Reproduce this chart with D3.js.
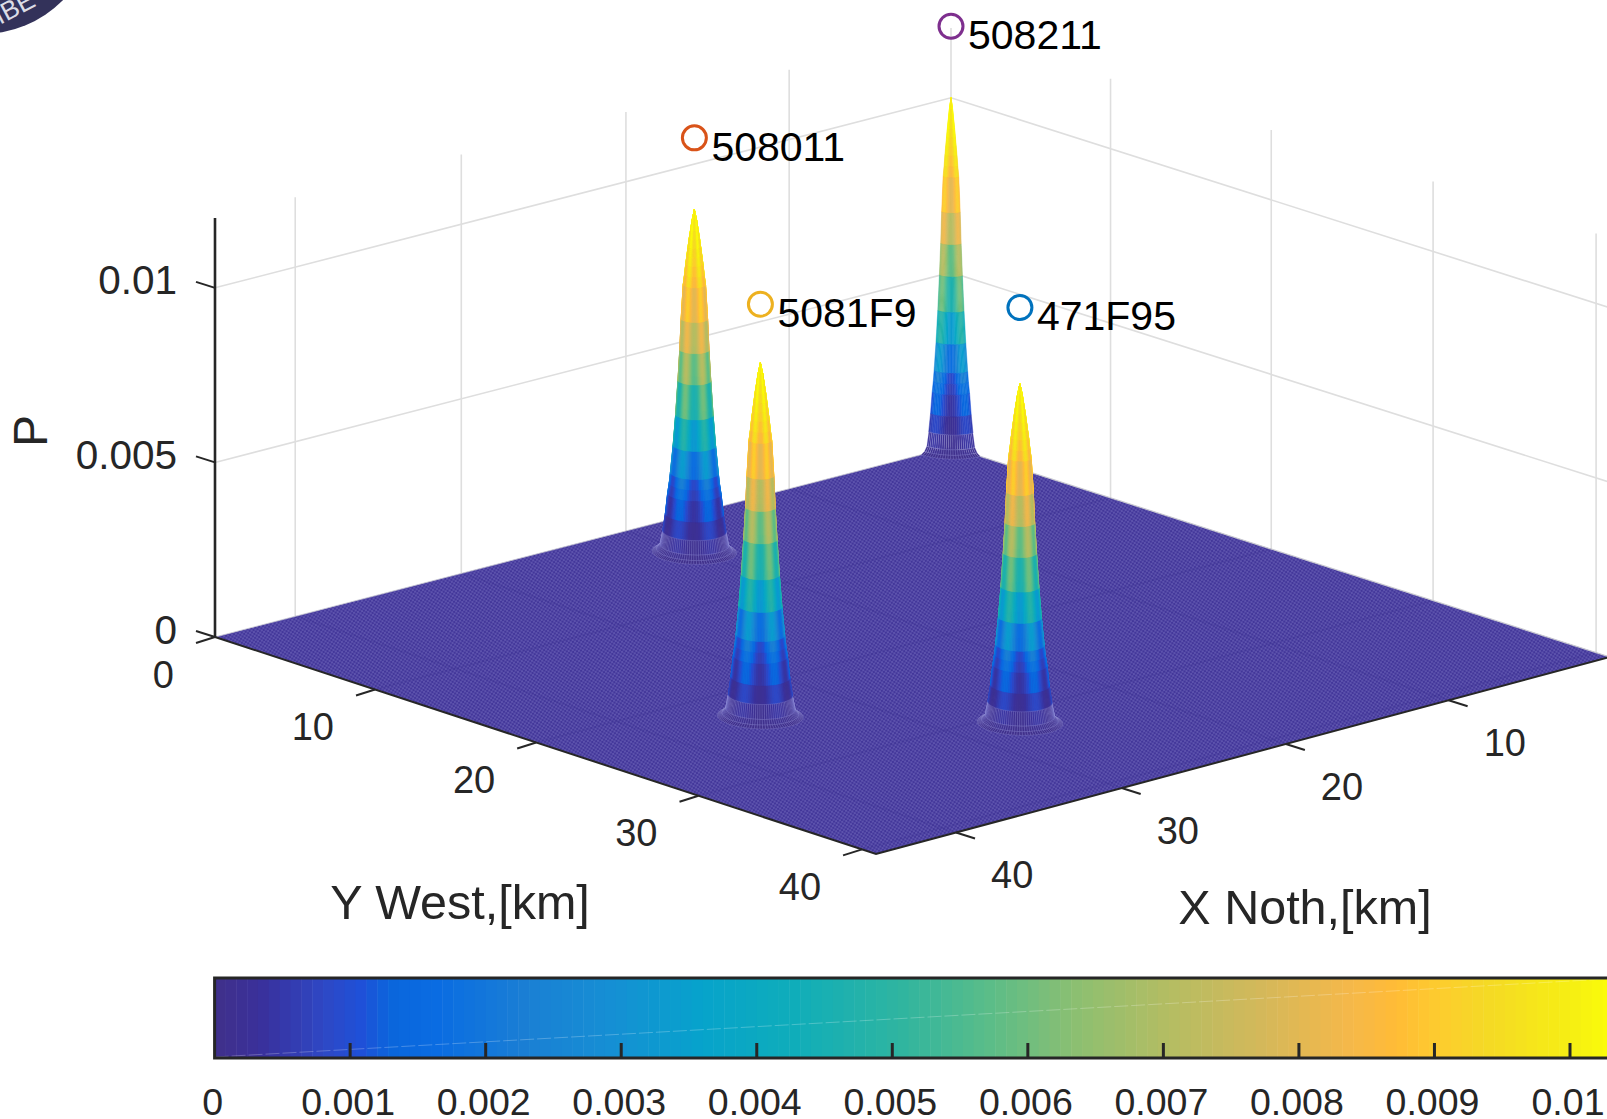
<!DOCTYPE html>
<html>
<head>
<meta charset="utf-8">
<script src="https://cdn.jsdelivr.net/npm/d3@7"></script>
<style>
  html, body { margin: 0; padding: 0; background: #fff; overflow: hidden; }
  text { font-family: "Liberation Sans", Arial, sans-serif; fill: #262626; }
</style>
</head>
<body>
<svg id="chart" width="1607" height="1119"></svg>
<script>
// axis ticks
const xTicks = [10, 20, 30, 40];
const yTicks = [0, 10, 20, 30, 40];
const zTicks = [0, 0.005, 0.01];
const zTickLabels = ["0", "0.005", "0.01"];
const barTicks = [0, 0.001, 0.002, 0.003, 0.004, 0.005, 0.006, 0.007, 0.008, 0.009, 0.01];
const barTickLabels = ["0", "0.001", "0.002", "0.003", "0.004", "0.005", "0.006", "0.007", "0.008", "0.009", "0.01"];

// the four targets, km on the floor, peak P and the height of the circle marker
const targetNames = ["508211", "508011", "5081F9", "471F95"];
const targetX = [0, 19.89, 34.68, 26.68];
const targetY = [0, 4.18, 23.44, 31.28];
const targetP = [0.0100, 0.0098, 0.01012, 0.0097];
const markerP = [0.01205, 0.01186, 0.0118, 0.01189];
const targetColors = ["#7E2F8E", "#D95319", "#EDB120", "#0072BD"];

// radial shape of a peak: radius in km, share of peak height
const ringRadius = [0, 0.1, 0.17, 0.23, 0.28, 0.33, 0.38, 0.43, 0.49, 0.58, 0.64, 0.72, 0.82, 0.93, 1.05, 1.1, 1.17, 1.27, 1.38, 1.5, 1.65, 1.85];
const ringShare = [1, 0.97, 0.94, 0.915, 0.89, 0.865, 0.84, 0.81, 0.78, 0.68, 0.59, 0.5, 0.4, 0.31, 0.23, 0.2, 0.17, 0.11, 0.06, 0.02, 0.007, 0];

// colour seen on the peaks against their share of height
const shadeShare = [0, 0.1, 0.21, 0.38, 0.57, 0.66, 0.85, 1];
const shadeP = [0, 0.0006, 0.0015, 0.0045, 0.0067, 0.008, 0.0095, 0.0103];

// colormap
const cmapValues = [0, 0.00033, 0.00082, 0.00108, 0.0013, 0.00164, 0.0023, 0.00296, 0.0036, 0.00427, 0.00506, 0.00572, 0.0064, 0.00705, 0.00772, 0.00838, 0.00871, 0.00904, 0.00938, 0.01004, 0.01027];
const cmapColors = ["#40308a", "#3a309a", "#2d48c6", "#1f50d8", "#0a66dc", "#0a6ce2", "#1a7fd4", "#1590d4", "#06a3cb", "#0fadba", "#2fb5a0", "#5bbd88", "#8fbf70", "#b5bd62", "#d4b85a", "#f5b84a", "#ffbb36", "#fdcc2e", "#f5d925", "#f6f012", "#fbfb0a"];

const width = 1607, height = 1119;
const svg = d3.select("#chart");
const color = d3.scaleLinear().domain(cmapValues).range(cmapColors).clamp(true);
const shade = d3.scaleLinear().domain(shadeShare).range(shadeP).clamp(true);

// floor corners on the page: back, left, front, right
const corners = [[951, 447], [215, 637], [876, 854], [1610, 657]];
const xScale = d3.scaleLinear().domain([0, 44.8]).range([0, 1]);
const yScale = d3.scaleLinear().domain([0, 40.85]).range([0, 1]);
const zScale = d3.scaleLinear().domain([0, 0.012]).range([0, -419]);

function squareToQuad(q) {
    const [[x0, y0], [x1, y1], [x2, y2], [x3, y3]] = q;
    const dx1 = x1 - x2, dx2 = x3 - x2, sx = x0 - x1 + x2 - x3;
    const dy1 = y1 - y2, dy2 = y3 - y2, sy = y0 - y1 + y2 - y3;
    const den = dx1 * dy2 - dx2 * dy1;
    const g = (sx * dy2 - dx2 * sy) / den;
    const h = (dx1 * sy - sx * dy1) / den;
    return { a: x1 - x0 + g * x1, b: x3 - x0 + h * x3, c: x0,
             d: y1 - y0 + g * y1, e: y3 - y0 + h * y3, f: y0, g, h };
}
const H = squareToQuad(corners);

function project(x, y, z = 0) {
    const u = xScale(x), v = yScale(y);
    const w = H.g * u + H.h * v + 1;
    return [(H.a * u + H.b * v + H.c) / w, (H.d * u + H.e * v + H.f) / w + zScale(z)];
}

const line = d3.line();
const xMax = xScale.domain()[1], yMax = yScale.domain()[1], zMax = zScale.domain()[1];

const defs = svg.append("defs");
const mesh = defs.append("pattern").attr("id", "floorMesh")
    .attr("patternUnits", "userSpaceOnUse").attr("width", 4).attr("height", 4)
    .attr("patternTransform", "rotate(-12)");
mesh.append("rect").attr("width", 4).attr("height", 4).attr("fill", "#5d53ad");
mesh.append("rect").attr("width", 2).attr("height", 2).attr("fill", "#43379a");
mesh.append("rect").attr("x", 2).attr("y", 2).attr("width", 2).attr("height", 2).attr("fill", "#43379a");

// logo clipped by the top left corner
const logo = svg.append("g");
logo.append("circle").attr("cx", -18).attr("cy", -80).attr("r", 114).attr("fill", "#33325a");
logo.append("text").attr("transform", "translate(0,25) rotate(-28)")
    .style("fill", "#dcdce6").attr("font-size", 26).text("IBE");

// back walls
const grid = svg.append("g").attr("fill", "none").attr("stroke", "#dedede").attr("stroke-width", 1.6);
[0].concat(xTicks).forEach(x => grid.append("path").attr("d", line([project(x, 0, 0), project(x, 0, zMax)])));
yTicks.slice(1).forEach(y => grid.append("path").attr("d", line([project(0, y, 0), project(0, y, zMax)])));
zTicks.slice(1).forEach(z => grid.append("path")
    .attr("d", line([project(xMax, 0, z), project(0, 0, z), project(0, yMax, z)])));

// floor
svg.append("path")
    .attr("d", line([project(0, 0), project(xMax, 0), project(xMax, yMax), project(0, yMax)]) + "Z")
    .attr("fill", "url(#floorMesh)");
const floorGrid = svg.append("g").attr("fill", "none").attr("stroke", "#3c3090").attr("stroke-opacity", 0.2).attr("stroke-width", 1.5);
xTicks.forEach(x => floorGrid.append("path").attr("d", line([project(x, 0), project(x, yMax)])));
yTicks.slice(1).forEach(y => floorGrid.append("path").attr("d", line([project(0, y), project(xMax, y)])));
svg.append("path").attr("d", line([project(0, 0), project(0, yMax)]))
    .attr("fill", "none").attr("stroke", "#c8c8d0").attr("stroke-width", 1.2);
svg.append("path").attr("d", line([project(xMax, 0), project(0, 0)]))
    .attr("fill", "none").attr("stroke", "#c8c8d0").attr("stroke-width", 0.8);

// axes lines and ticks
const axes = svg.append("g").attr("fill", "none").attr("stroke", "#262626");
axes.append("path").attr("stroke-width", 2.6)
    .attr("d", line([project(xMax, 0, 0), project(xMax, 0, zMax)]));
axes.append("path").attr("stroke-width", 2)
    .attr("d", line([project(xMax, 0), project(xMax, yMax), project(0, yMax)]));
zTicks.forEach(z => {
    const p = project(xMax, 0, z);
    axes.append("path").attr("stroke-width", 2).attr("d", line([p, [p[0] - 19, p[1] - 6]]));
});
yTicks.forEach(y => {
    const p = project(xMax, y);
    axes.append("path").attr("stroke-width", 2).attr("d", line([p, [p[0] - 19, p[1] + 6]]));
});
xTicks.forEach(x => {
    const p = project(x, yMax);
    axes.append("path").attr("stroke-width", 2).attr("d", line([p, [p[0] + 19, p[1] + 6]]));
});

// peaks, flat shaded quads painted back to front
const quads = [];
targetNames.forEach((name, t) => {
    const dTheta = Math.PI / 48;
    d3.range(96).forEach(j => {
        const t0 = j * dTheta, t1 = (j + 1) * dTheta;
        ringRadius.slice(0, -1).forEach((r0, i) => {
            const r1 = ringRadius[i + 1];
            const pt = (r, th, share) => {
                const x = targetX[t] + r * Math.cos(th), y = targetY[t] + r * Math.sin(th);
                return { x, y, p: project(x, y, share * targetP[t]) };
            };
            const c = [pt(r0, t0, ringShare[i]), pt(r1, t0, ringShare[i + 1]), pt(r1, t1, ringShare[i + 1]), pt(r0, t1, ringShare[i])];
            if (c.some(d => d.x < -1e-6 || d.y < -1e-6)) return;
            const share = (ringShare[i] + ringShare[i + 1]) / 2;
            const mid = (t0 + t1) / 2;
            // the arched colour bands of the original mesh
            const scallop = 0.001 * Math.cos(6 * (mid - Math.PI / 4));
            quads.push({
                d: line(c.map(d => d.p)) + "Z",
                depth: project(targetX[t] + (r0 + r1) / 2 * Math.cos(mid), targetY[t] + (r0 + r1) / 2 * Math.sin(mid))[1],
                value: shade(share) - scallop * Math.min(1, share * 4) * (1 - share * 0.6),
                foot: share < 0.05
            });
        });
    });
});
quads.sort((a, b) => a.depth - b.depth);
svg.append("g").selectAll("path").data(quads).join("path")
    .attr("d", d => d.d)
    .attr("fill", d => color(d.value))
    .attr("stroke", d => d.foot ? "#a9a8e6" : color(d.value))
    .attr("stroke-opacity", d => d.foot ? 0.3 : 1)
    .attr("stroke-width", d => d.foot ? 0.7 : 0.5);

// markers and their labels
const markers = svg.append("g");
targetNames.forEach((name, t) => {
    const p = project(targetX[t], targetY[t], markerP[t]);
    markers.append("circle").attr("cx", p[0]).attr("cy", p[1]).attr("r", 12)
        .attr("fill", "none").attr("stroke", targetColors[t]).attr("stroke-width", 3);
    markers.append("text").attr("x", p[0] + 17).attr("y", p[1] + 8).attr("dy", "0.36em")
        .attr("font-size", 41).style("fill", "#000").text(name);
});

// tick labels
const labels = svg.append("g").attr("text-anchor", "middle");
zTicks.forEach((z, i) => {
    const p = project(xMax, 0, z);
    labels.append("text").attr("x", p[0] - 38).attr("y", p[1] - 8).attr("dy", "0.36em")
        .attr("text-anchor", "end").attr("font-size", 40.5).text(zTickLabels[i]);
});
yTicks.forEach(y => {
    const p = project(xMax, y);
    labels.append("text").attr("x", p[0] - 41).attr("y", p[1] + 37).attr("dy", "0.36em")
        .attr("text-anchor", "end").attr("font-size", 38).text(y);
});
xTicks.forEach(x => {
    const p = project(x, yMax);
    labels.append("text").attr("x", p[0] + 35).attr("y", p[1] + 42).attr("dy", "0.36em")
        .attr("text-anchor", "start").attr("font-size", 38).text(x);
});
labels.append("text").attr("x", 460).attr("y", 902).attr("dy", "0.36em").attr("font-size", 48.5).text("Y West,[km]");
labels.append("text").attr("x", 1305).attr("y", 907).attr("dy", "0.36em").attr("font-size", 48.5).text("X Noth,[km]");
labels.append("text").attr("transform", "translate(30,431) rotate(-90)").attr("dy", "0.36em").attr("font-size", 48).text("P");

// colour bar
const barScale = d3.scaleLinear().domain([0, 0.01]).range([214.6, 1570]);
const barTop = 978, barBottom = 1058;
const barStep = 0.00008;
const barBands = d3.range(0, 0.0105, barStep);
const bar = svg.append("g");
bar.selectAll("rect").data(barBands).join("rect")
    .attr("x", d => barScale(d)).attr("y", barTop)
    .attr("width", barScale(barStep) - barScale(0) + 0.5).attr("height", barBottom - barTop)
    .attr("fill", d => color(d + barStep / 2));
bar.append("path").attr("d", line([[barScale(0), barBottom - 1], [barScale(0.0104), barTop]]))
    .attr("fill", "none").attr("stroke", "#fff").attr("stroke-opacity", 0.3).attr("stroke-width", 0.8).attr("stroke-dasharray", "14 3");
bar.append("rect").attr("x", barScale(0)).attr("y", barTop).attr("width", width).attr("height", barBottom - barTop)
    .attr("fill", "none").attr("stroke", "#262626").attr("stroke-width", 3);
bar.selectAll("line").data(barTicks.slice(1)).join("line")
    .attr("x1", d => barScale(d)).attr("x2", d => barScale(d))
    .attr("y1", barBottom).attr("y2", barBottom - 15)
    .attr("stroke", "#262626").attr("stroke-width", 3);
bar.selectAll("text").data(barTicks).join("text")
    .attr("x", d => barScale(d) - 2).attr("y", 1101).attr("dy", "0.36em")
    .attr("text-anchor", "middle").attr("font-size", 37.5)
    .text((d, i) => barTickLabels[i]);
</script>
</body>
</html>
